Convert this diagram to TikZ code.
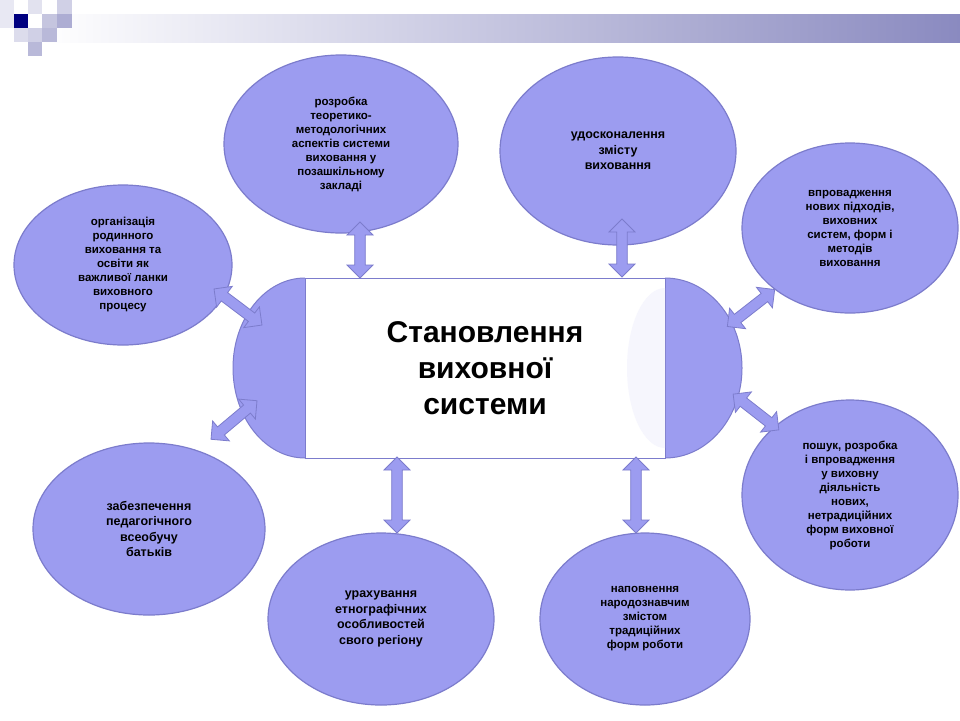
\documentclass[tikz,border=0pt]{standalone}
\usepackage{fontspec}
\setmainfont{Liberation Sans}
\usetikzlibrary{shapes.arrows,shapes.geometric}
\definecolor{bub}{HTML}{9C9CF0}
\definecolor{bubd}{HTML}{7C7CCC}
\definecolor{ban}{HTML}{8A8AC0}
\begin{document}
\begin{tikzpicture}[x=1pt,y=-1pt,
  bubble/.style={ellipse,fill=bub,draw=bubd,line width=1.2pt,align=center,inner sep=0pt,font=\bfseries\fontsize{11.5}{14}\selectfont},
  dar/.style={double arrow,fill=bub,draw=bubd,line width=0.8pt,double arrow head extend=5pt,minimum width=26pt,inner sep=3pt}]
\useasboundingbox (0,0) rectangle (960,720);
\fill[white] (0,0) rectangle (960,720);
% banner
\shade[left color=white,right color=ban] (42,14) rectangle (960,42);
\fill[ban!40] (57,0) rectangle (72,14);
\fill[ban!50] (42,14) rectangle (57,28);
\fill[ban!70] (57,14) rectangle (72,28);
\fill[ban!60] (42,28) rectangle (57,42);
\fill[ban!40] (28,28) rectangle (42,42);
\fill[ban!60] (28,42) rectangle (42,56);
\fill[ban!30] (14,28) rectangle (28,42);
\fill[ban!20] (0,0) rectangle (14,28);
\fill[ban!25] (28,0) rectangle (42,14);
\fill[blue!50!black] (14,14) rectangle (28,28);
% center
\fill[bub] (305,278) -- (665,278) arc[start angle=-90,end angle=90,x radius=77,y radius=90] -- (305,458) arc[start angle=90,end angle=270,x radius=72,y radius=90] -- cycle;
\draw[bubd,line width=1pt] (305,278) arc[start angle=-90,end angle=-270,x radius=72,y radius=90];
\draw[bubd,line width=1pt] (665,278) arc[start angle=-90,end angle=90,x radius=77,y radius=90];
\node[draw=bubd,fill=white,line width=1pt,minimum width=360pt,minimum height=180pt,align=center,font=\bfseries\fontsize{30}{36}\selectfont] (c) at (485,368) {Становлення\\виховної\\системи};
\fill[bub!15,opacity=0.6] (665,288) arc[start angle=-90,end angle=-270,x radius=38,y radius=80] -- cycle;
% bubbles
\node[bubble,minimum width=234pt,minimum height=178pt] (b1) at (341,144) {розробка\\теоретико-\\методологічних\\аспектів системи\\виховання у\\позашкільному\\закладі};
\node[bubble,minimum width=236pt,minimum height=188pt,font=\bfseries\fontsize{12.5}{15.5}\selectfont] (b2) at (618,151) {удосконалення\\змісту\\виховання};
\node[bubble,minimum width=216pt,minimum height=170pt] (b3) at (850,228) {впровадження\\нових підходів,\\виховних\\систем, форм і\\методів\\виховання};
\node[bubble,minimum width=218pt,minimum height=160pt] (b4) at (123,265) {організація\\родинного\\виховання та\\освіти як\\важливої ланки\\виховного\\процесу};
\node[bubble,minimum width=232pt,minimum height=172pt,font=\bfseries\fontsize{12.5}{15.5}\selectfont] (b5) at (149,529) {забезпечення\\педагогічного\\всеобучу\\батьків};
\node[bubble,minimum width=226pt,minimum height=172pt,font=\bfseries\fontsize{12.5}{15.5}\selectfont] (b6) at (381,619) {урахування\\етнографічних\\особливостей\\свого регіону};
\node[bubble,minimum width=210pt,minimum height=172pt] (b7) at (645,619) {наповнення\\народознавчим\\змістом\\традиційних\\форм роботи};
\node[bubble,minimum width=216pt,minimum height=190pt] (b8) at (850,495) {пошук, розробка\\і впровадження\\у виховну\\діяльність\\нових,\\нетрадиційних\\форм виховної\\роботи};
% arrows
\node[dar,minimum height=56pt,rotate=90] (a1) at (360,250) {};
\node[dar,minimum height=58pt,rotate=90] (a2) at (622,248) {};
\node[dar,minimum height=76pt,rotate=90] (a3) at (397,495) {};
\node[dar,minimum height=76pt,rotate=90] (a4) at (636,495) {};
\node[dar,minimum height=60pt,rotate=-37] (a5) at (238,307) {};
\node[dar,minimum height=60pt,rotate=40] (a6) at (234,420) {};
\node[dar,minimum height=60pt,rotate=38] (a7) at (751,308) {};
\node[dar,minimum height=58pt,rotate=-38] (a8) at (756,412) {};
\end{tikzpicture}
\end{document}
